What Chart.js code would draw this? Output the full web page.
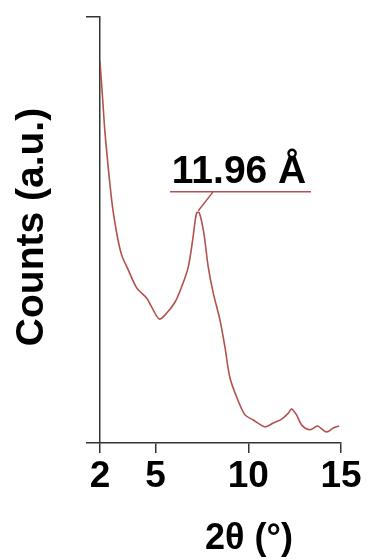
<!DOCTYPE html>
<html>
<head>
<meta charset="utf-8">
<script src="https://cdn.jsdelivr.net/npm/chart.js@4"></script>
<style>
  body { margin: 0; background: #fff; }
  #wrap { width: 369px; height: 560px; }
</style>
</head>
<body>
<div id="wrap"><canvas id="xrdChart"></canvas></div>
<script>
// ---------------- DATA ----------------
const twoTheta = [2.0, 2.14, 2.27, 2.63, 2.9, 3.17, 3.53, 3.98, 4.52, 4.79, 5.2, 5.6, 6.05, 6.4, 6.76, 7.0, 7.21, 7.36, 7.6, 7.84, 8.11, 8.47, 8.74, 9.0, 9.37, 9.82, 10.27, 10.9, 11.35, 11.8, 12.16, 12.34, 12.6, 12.88, 13.33, 13.72, 13.9, 14.23, 14.58, 14.9];
const counts   = [89.5, 81, 72.8, 57, 49.3, 44.1, 40.6, 36.4, 34, 31.9, 29.1, 30.5, 33.1, 36.6, 41.3, 47.7, 54, 54, 49.3, 41.3, 35.2, 28.9, 22.5, 15.5, 10.8, 6.6, 5.4, 3.8, 4.7, 5.6, 7.0, 8.0, 6.6, 4.2, 3.1, 4.0, 3.5, 2.6, 3.5, 4.0];
const xTicks = [2, 5, 10, 15];
const yTicks = [0, 100];
const peakLabel = "11.96 Å";
const peakPos = [7.3, 54.5];

const FONT = 'Arial, "Liberation Sans", sans-serif';
const LINE_COLOR = "rgb(178, 82, 78)";
const AXIS_COLOR = "#333";

// ---------------- ANNOTATIONS ----------------
const annotate = {
    id: "annotate",
    afterDraw(chart) {
        const ctx = chart.ctx;
        const xs = chart.scales.x, ys = chart.scales.y;

        // peak leader + underline
        const px = xs.getPixelForValue(peakPos[0]);
        const py = ys.getPixelForValue(peakPos[1]);
        const lx = xs.getPixelForValue(8.11);
        const ly = ys.getPixelForValue(59);
        ctx.save();
        ctx.strokeStyle = LINE_COLOR;
        ctx.lineWidth = 1.5;
        ctx.beginPath();
        ctx.moveTo(px, py);
        ctx.lineTo(lx, ly);
        ctx.moveTo(xs.getPixelForValue(5.78), ly);
        ctx.lineTo(xs.getPixelForValue(13.38), ly);
        ctx.stroke();

        ctx.fillStyle = "#000";
        ctx.font = "bold 39px " + FONT;
        ctx.textAlign = "center";
        ctx.textBaseline = "alphabetic";
        ctx.fillText(peakLabel, xs.getPixelForValue(9.5), ly - 9);

        // axis titles
        ctx.font = "bold 36px " + FONT;
        ctx.textBaseline = "middle";
        ctx.fillText("2θ (°)", 249, 539);
        ctx.font = "bold 39px " + FONT;
        ctx.translate(32, 227);
        ctx.rotate(-Math.PI / 2);
        ctx.fillText("Counts (a.u.)", 0, 0);
        ctx.restore();
    }
};

// ---------------- CHART ----------------
new Chart(document.getElementById("xrdChart"), {
    type: "line",
    data: {
        datasets: [{
            data: twoTheta.map((t, i) => ({ x: t, y: counts[i] })),
            borderColor: LINE_COLOR,
            borderWidth: 1.6,
            pointRadius: 0,
            tension: 0.3,
            fill: false
        }]
    },
    options: {
        responsive: true,
        maintainAspectRatio: false,
        animation: false,
        layout: { padding: { top: 17, right: 28, left: 0, bottom: 0 } },
        plugins: { legend: { display: false }, tooltip: { enabled: false } },
        scales: {
            x: {
                type: "linear",
                min: 2,
                max: 15,
                afterBuildTicks: s => { s.ticks = xTicks.map(v => ({ value: v })); },
                afterFit: s => { s.height = 117; },
                grid: { drawOnChartArea: false, drawTicks: true, tickLength: 10, color: AXIS_COLOR, lineWidth: 1.5 },
                border: { color: AXIS_COLOR, width: 1.5 },
                ticks: { color: "#000", font: { family: FONT, size: 37, weight: "bold" }, padding: 2, maxRotation: 0 }
            },
            y: {
                min: 0,
                max: 100,
                afterBuildTicks: s => { s.ticks = yTicks.map(v => ({ value: v })); },
                afterFit: s => { s.width = 100; },
                grid: { drawOnChartArea: false, drawTicks: true, tickLength: 14, color: AXIS_COLOR, lineWidth: 1.5 },
                border: { color: AXIS_COLOR, width: 1.5 },
                ticks: { display: false }
            }
        }
    },
    plugins: [annotate]
});
</script>
</body>
</html>
